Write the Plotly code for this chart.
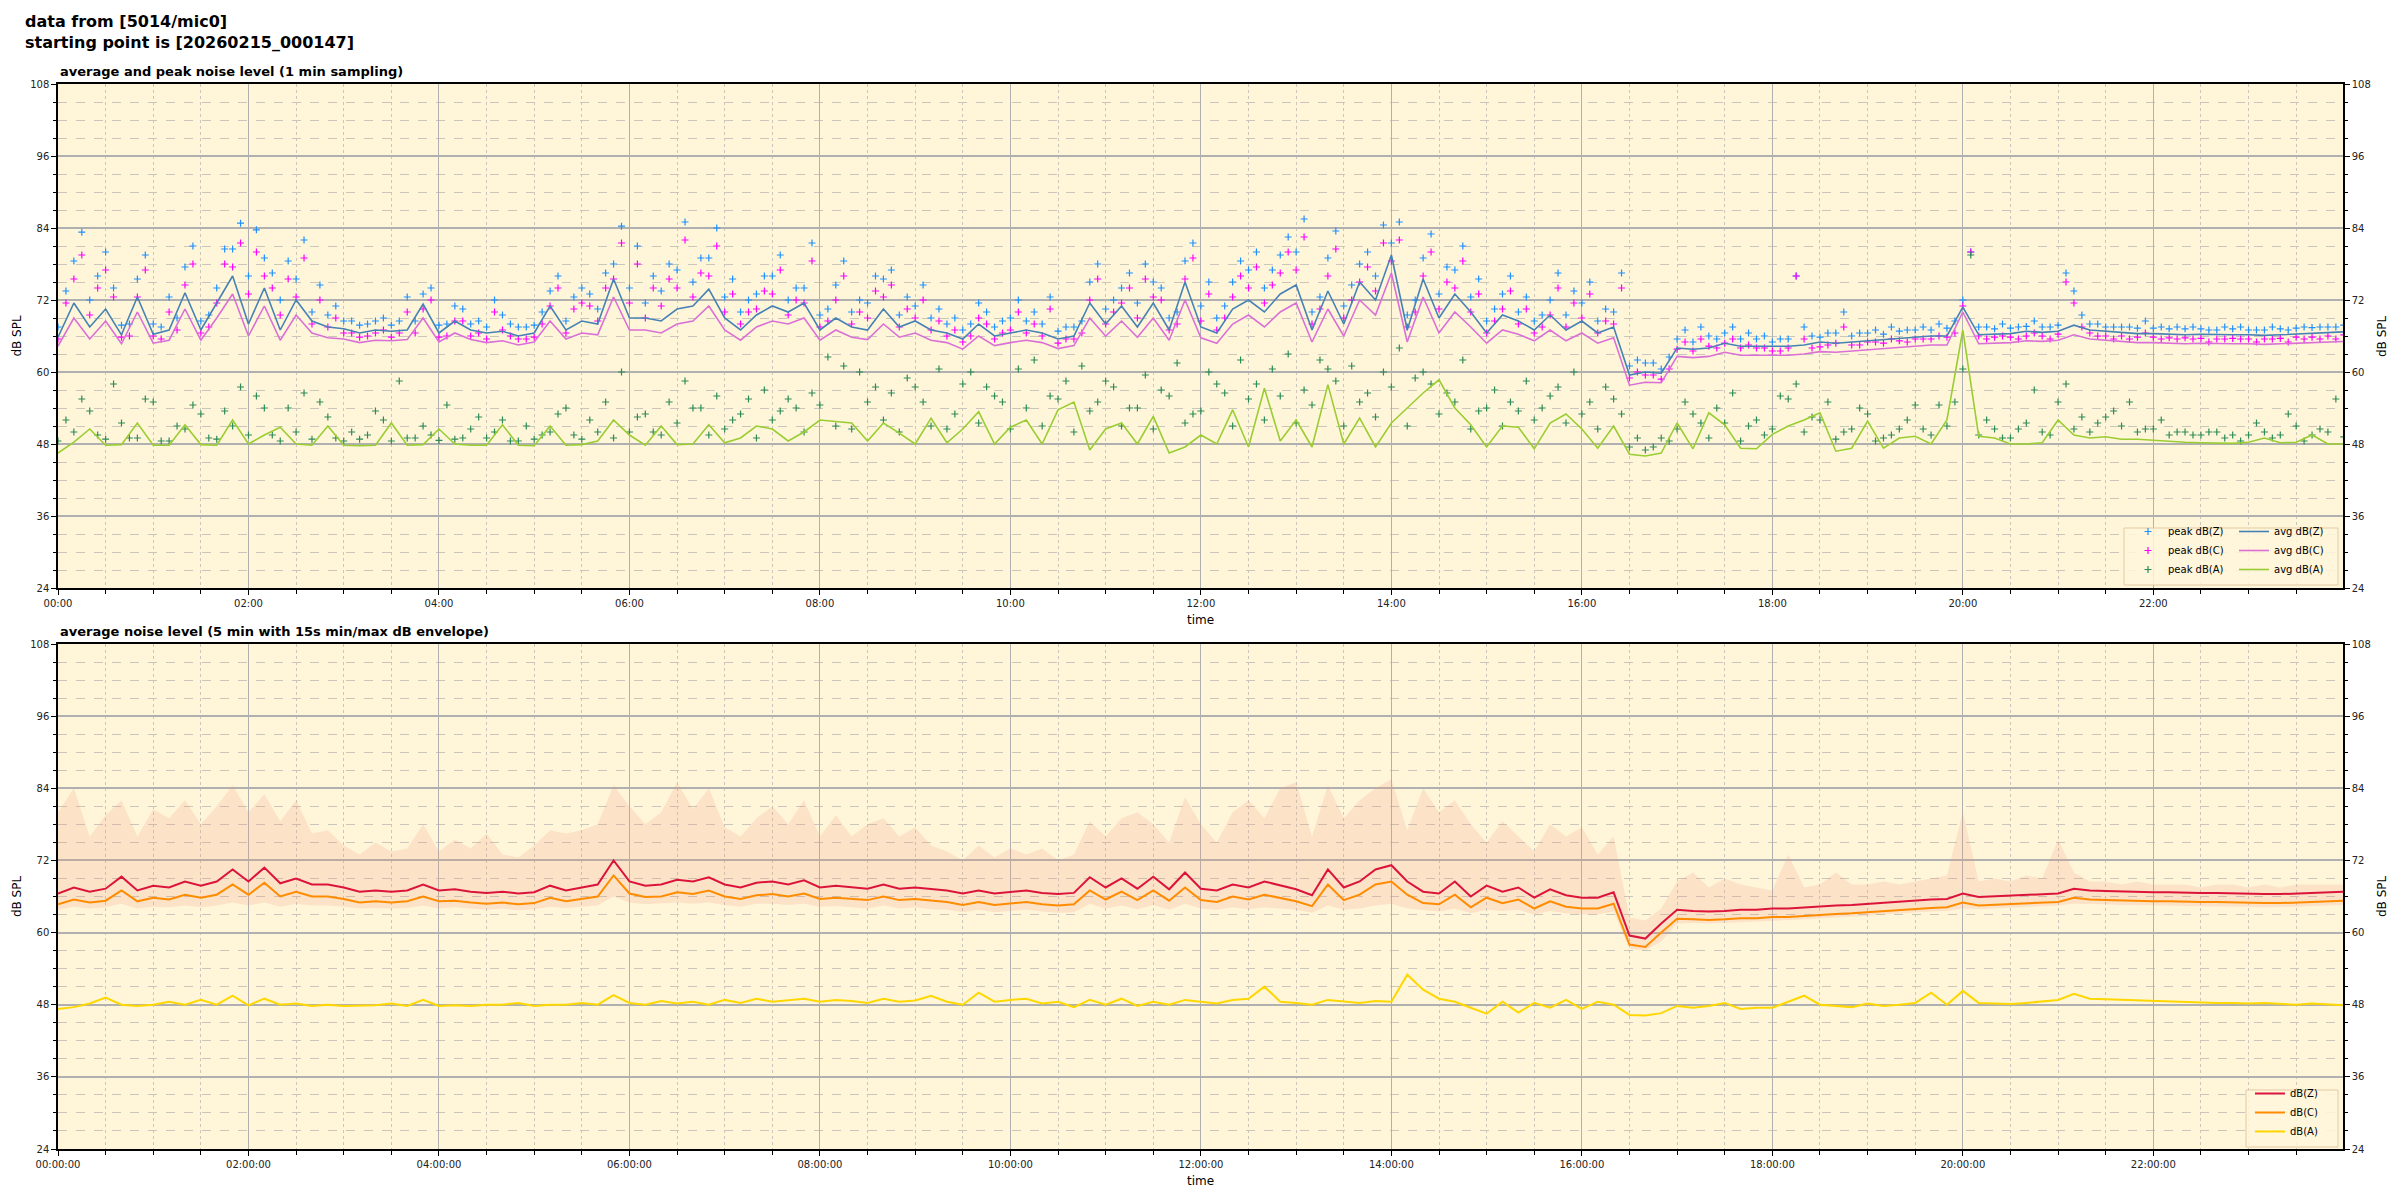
import pandas as pd
import plotly.graph_objects as go

# ---------------- DATA ----------------
# 10-minute samples, 00:00 .. 24:00 (145 points)
top_avg_z = [
    65.8, 71.5, 67.5, 70.5, 66.2, 72.5, 66.3, 67.0, 73.2, 67.0,
    71.5, 76.0, 68.0, 74.0, 67.0, 72.0, 68.5, 67.5, 67.2, 66.5,
    67.0, 66.8, 67.0, 71.3, 66.5, 68.5, 67.0, 66.5, 66.8, 66.0,
    66.5, 71.0, 67.0, 68.5, 68.0, 75.5,
    69.0, 69.0, 68.5, 70.5, 71.0, 73.8, 69.0, 67.0, 69.5, 71.0,
    70.0, 71.5, 67.0, 69.0, 67.5, 67.0, 70.5, 67.5, 68.5, 67.0,
    66.5, 65.5, 68.0, 66.0, 66.5, 67.0, 66.5, 65.5, 66.0, 71.5,
    68.0, 71.0, 67.5, 71.5, 67.0, 75.0,
    67.5, 66.5, 70.5, 72.0, 70.0, 73.0, 74.5, 67.0, 73.5, 68.0,
    75.0, 72.0, 79.5, 67.0, 75.5, 69.0, 73.0, 70.0, 66.5, 69.5,
    68.5, 67.0, 69.5, 67.0, 68.5, 66.5, 67.5, 59.5, 60.0, 59.8,
    64.0, 63.8, 64.0, 64.8, 64.3, 64.3,
    64.2, 64.3, 64.5, 65.0, 64.8, 65.0, 65.2, 65.4, 65.6, 65.8,
    66.0, 66.0, 70.8, 66.2, 66.3, 66.4, 66.8, 66.6, 66.8, 67.8,
    67.0, 66.8, 66.6, 66.4, 66.4, 66.3, 66.2, 66.3, 66.2, 66.2,
    66.2, 66.1, 66.2, 66.3, 66.4, 66.6, 66.7,
]
top_avg_c = [
    64.3, 69.0, 65.5, 68.5, 64.7, 70.0, 64.8, 65.3, 70.5, 65.3,
    69.0, 73.0, 66.0, 71.0, 65.3, 69.5, 66.5, 65.7, 65.5, 64.9,
    65.3, 65.2, 65.4, 69.0, 65.0, 66.5, 65.4, 64.9, 65.2, 64.5,
    65.0, 68.5, 65.5, 66.5, 66.2, 72.5,
    67.0, 67.0, 66.5, 68.0, 68.5, 71.0, 67.0, 65.3, 67.5, 68.5,
    68.0, 69.0, 65.3, 67.0, 65.8, 65.4, 68.0, 65.8, 66.5, 65.3,
    64.9, 63.8, 66.0, 64.4, 64.9, 65.3, 64.9, 63.9, 64.4, 69.0,
    66.0, 68.5, 65.8, 69.0, 65.3, 72.0,
    65.7, 64.8, 68.0, 69.5, 67.5, 70.0, 71.5, 65.0, 70.5, 66.0,
    72.0, 69.5, 76.5, 65.0, 72.5, 66.5, 70.0, 67.5, 64.8, 67.0,
    66.3, 65.2, 67.0, 65.2, 66.5, 64.8, 65.7, 57.8, 58.3, 58.2,
    62.6, 62.4, 62.6, 63.3, 62.8, 62.8,
    62.7, 62.8, 63.0, 63.4, 63.3, 63.5, 63.7, 63.9, 64.1, 64.3,
    64.5, 64.5, 70.0, 64.7, 64.8, 64.9, 65.2, 65.1, 65.3, 66.2,
    65.5, 65.3, 65.1, 64.9, 64.9, 64.8, 64.7, 64.8, 64.7, 64.7,
    64.7, 64.6, 64.7, 64.8, 64.9, 65.0, 65.1,
]
top_avg_a = [
    46.5, 48.3, 50.5, 47.8, 47.9, 51.5, 47.8, 47.8, 51.2, 47.9,
    47.8, 52.0, 48.0, 49.5, 50.8, 48.0, 47.8, 51.0, 47.8, 47.7,
    47.8, 51.5, 47.8, 47.9, 50.5, 48.0, 47.8, 47.8, 51.2, 47.8,
    47.7, 51.0, 47.8, 47.9, 48.5, 52.0,
    49.5, 47.8, 51.0, 47.9, 48.0, 51.2, 48.2, 49.0, 51.0, 50.5,
    48.5, 50.0, 52.0, 51.8, 51.5, 48.5, 51.5, 49.8, 48.0, 52.3,
    48.2, 50.5, 53.4, 48.0, 50.8, 52.0, 48.0, 53.7, 55.0, 47.0,
    50.5, 51.5, 48.0, 52.6, 46.5, 47.5,
    49.5, 48.0, 53.7, 47.5, 57.3, 48.5, 52.0, 47.5, 57.9, 48.0,
    52.3, 47.5, 51.5, 54.0, 56.5, 58.7, 54.0, 51.2, 47.5, 51.0,
    50.8, 47.2, 51.5, 53.0, 50.5, 47.3, 51.0, 46.3, 46.0, 46.5,
    51.5, 47.2, 53.2, 51.2, 47.3, 47.2,
    49.6, 51.0, 52.0, 53.2, 46.8, 47.3, 51.8, 47.3, 49.0, 49.3,
    48.0, 52.0, 67.0, 49.3, 49.0, 48.0, 48.0, 48.2, 52.0, 49.5,
    49.0, 49.2, 48.8, 48.8, 48.6, 48.4, 48.3, 48.2, 48.2, 48.1,
    48.3, 49.0, 48.2, 48.3, 49.5, 48.0, 48.0,
]
# peak values read at 00:05, 00:15 ... 23:55 (144 points)
top_peak_z = [
    73.5, 83.3, 76.0, 74.0, 68.0, 79.5, 67.5, 69.0, 81.0, 69.5,
    80.5, 84.8, 83.7, 76.5, 78.5, 82.0, 74.5, 71.0, 68.5, 68.0,
    69.0, 68.5, 68.5, 74.0, 68.0, 70.5, 68.5, 72.0, 68.0, 67.5,
    70.0, 76.0, 72.5, 73.0, 76.5, 84.3,
    81.0, 76.0, 78.0, 85.0, 79.0, 84.0, 75.5, 72.0, 76.0, 79.5,
    74.0, 81.5, 70.5, 78.5, 72.0, 76.0, 77.0, 72.5, 74.5, 70.5,
    69.0, 68.0, 70.0, 68.5, 72.0, 70.0, 72.5, 67.5, 68.5, 78.0,
    72.0, 76.5, 78.0, 74.0, 70.0, 81.5,
    75.0, 71.0, 78.5, 80.0, 77.0, 82.5, 85.5, 72.5, 83.5, 74.5,
    80.0, 84.5, 85.0, 72.0, 83.0, 77.5, 81.0, 75.5, 70.5, 76.0,
    72.5, 69.5, 76.5, 73.5, 75.0, 70.5, 76.5, 62.0, 61.5, 62.5,
    67.0, 67.5, 65.5, 67.5, 66.5, 66.0,
    65.5, 76.0, 66.0, 66.5, 70.0, 66.5, 67.0, 67.5, 67.0, 67.5,
    68.0, 68.5, 80.0, 67.5, 68.0, 67.5, 68.5, 67.5, 76.5, 69.5,
    68.0, 67.5, 67.5, 68.5, 67.5, 67.5, 67.5, 67.0, 67.5, 67.5,
    67.0, 67.5, 67.0, 67.5, 67.5, 67.5,
]
top_peak_c = [
    71.5, 79.5, 74.0, 72.5, 66.0, 77.0, 65.5, 67.0, 78.0, 67.5,
    78.0, 81.5, 80.0, 74.0, 75.5, 79.0, 72.0, 69.0, 66.5, 66.0,
    67.0, 66.5, 66.5, 72.0, 66.0, 68.5, 66.5, 70.0, 66.0, 65.5,
    68.0, 74.0, 70.5, 71.0, 74.0, 81.5,
    78.0, 74.0, 75.5, 82.0, 76.5, 81.0, 73.0, 70.0, 73.5, 77.0,
    72.0, 78.5, 68.5, 76.0, 70.0, 73.5, 74.5, 70.5, 72.0, 68.5,
    67.0, 66.0, 68.0, 66.5, 70.0, 68.0, 70.5, 65.5, 66.5, 75.5,
    70.0, 74.0, 75.5, 72.0, 68.0, 79.0,
    73.0, 69.0, 76.0, 77.5, 74.5, 80.0, 82.5, 70.5, 80.5, 72.0,
    77.5, 81.5, 82.0, 70.0, 80.0, 75.0, 78.5, 73.0, 68.5, 73.5,
    70.5, 67.5, 74.0, 71.5, 73.0, 68.5, 74.0, 60.0, 59.5, 60.5,
    65.0, 65.5, 64.0, 65.5, 64.5, 64.0,
    63.5, 76.0, 64.0, 64.5, 67.5, 64.5, 65.0, 65.5, 65.0, 65.5,
    66.0, 66.5, 80.0, 65.5, 66.0, 65.5, 66.5, 65.5, 75.0, 67.5,
    66.0, 65.5, 65.5, 66.5, 65.5, 65.5, 65.5, 65.0, 65.5, 65.5,
    65.0, 65.5, 65.0, 65.5, 65.5, 65.5,
]
top_peak_a = [
    52.0, 55.5, 49.5, 58.0, 49.0, 55.5, 48.5, 51.0, 54.5, 49.0,
    53.5, 57.5, 56.0, 49.5, 54.0, 56.5, 55.0, 49.0, 50.0, 49.5,
    52.0, 58.5, 49.0, 49.5, 54.5, 49.0, 52.5, 50.0, 48.5, 51.0,
    49.5, 53.0, 49.5, 52.0, 55.0, 60.0,
    52.5, 50.0, 55.0, 58.5, 54.0, 56.0, 52.0, 55.5, 57.0, 53.5,
    54.0, 56.5, 62.5, 61.0, 60.0, 57.5, 56.5, 59.0, 55.0, 60.5,
    53.0, 60.0, 57.5, 55.0, 60.5, 62.0, 56.0, 58.5, 61.0, 55.0,
    57.5, 54.0, 59.5, 57.0, 61.5, 53.0,
    60.0, 56.5, 62.0, 58.0, 60.5, 63.0, 57.0, 62.0, 58.5, 61.0,
    56.5, 60.0, 64.0, 59.0, 58.0, 56.5, 62.0, 53.5, 57.0, 55.0,
    58.5, 54.0, 57.5, 60.0, 55.0, 57.5, 53.0, 49.0, 47.5, 48.5,
    55.0, 51.5, 54.0, 56.5, 51.0, 49.5,
    56.0, 58.0, 52.5, 55.0, 50.0, 54.0, 48.5, 49.5, 52.0, 50.5,
    54.5, 55.0, 79.5, 52.0, 49.0, 50.5, 57.0, 49.5, 58.0, 52.5,
    51.5, 53.5, 55.0, 50.5, 52.0, 50.0, 49.5, 50.0, 49.0, 48.5,
    51.5, 49.0, 53.0, 48.5, 50.5, 55.5,
]
# further peak values read at 00:00, 00:10 ... 24:00 (145 points)
top_peak_z_b = [
    67.5, 78.5, 72.0, 80.0, 67.8, 75.5, 68.0, 72.5, 77.5, 68.5,
    74.0, 80.5, 76.0, 79.0, 72.0, 75.5, 70.0, 69.5, 68.5, 67.8,
    68.5, 67.8, 72.5, 73.0, 67.8, 71.0, 68.0, 67.5, 69.5, 67.5,
    67.8, 73.5, 68.5, 74.0, 70.5, 78.0,
    74.0, 71.5, 73.5, 77.0, 75.0, 79.0, 72.5, 70.0, 73.0, 76.0,
    72.0, 74.0, 69.5, 74.5, 70.0, 71.5, 75.5, 69.5, 71.0, 69.0,
    68.0, 67.0, 71.5, 67.5, 69.0, 68.5, 68.0, 66.8, 67.5, 75.0,
    70.5, 74.0, 71.5, 75.0, 69.0, 78.5,
    71.0, 69.0, 75.0, 77.0, 74.0, 79.5, 80.0, 70.0, 79.0, 71.0,
    78.0, 76.0, 81.5, 69.5, 79.0, 73.0, 77.0, 72.5, 68.5, 73.0,
    70.0, 68.5, 72.0, 69.5, 71.5, 68.5, 70.0, 61.0, 61.5, 60.5,
    65.5, 65.0, 66.0, 66.5, 65.5, 65.5,
    65.0, 65.5, 67.5, 65.8, 66.5, 66.0, 66.5, 66.3, 66.8, 67.0,
    67.0, 67.3, 72.0, 67.5, 67.2, 67.3, 67.6, 67.5, 67.8, 73.5,
    68.0, 67.5, 67.5, 67.3, 67.3, 67.2, 67.2, 67.2, 67.0, 67.2,
    67.0, 67.0, 67.2, 67.3, 67.4, 67.5, 67.8,
]
top_peak_c_b = [
    65.5, 75.5, 69.5, 77.0, 65.8, 72.5, 66.0, 70.0, 74.5, 66.5,
    71.5, 77.5, 73.0, 76.0, 69.5, 72.5, 68.0, 67.5, 66.5, 65.8,
    66.5, 65.8, 70.0, 70.5, 65.8, 68.5, 66.0, 65.5, 67.0, 65.5,
    65.8, 71.0, 66.5, 71.5, 68.5, 75.5,
    71.5, 69.0, 71.0, 74.0, 72.5, 76.0, 70.0, 68.0, 70.5, 73.0,
    69.5, 71.5, 67.5, 72.0, 68.0, 69.0, 72.5, 67.5, 69.0, 67.0,
    66.0, 65.0, 69.0, 65.5, 67.0, 66.5, 66.0, 64.8, 65.5, 72.0,
    68.0, 71.5, 69.0, 72.5, 67.0, 75.5,
    68.5, 67.0, 72.5, 74.0, 71.5, 76.5, 77.0, 68.0, 76.0, 69.0,
    75.0, 73.5, 78.5, 67.5, 76.0, 70.5, 74.0, 70.0, 66.5, 70.5,
    68.0, 66.5, 69.5, 67.5, 69.0, 66.5, 68.0, 59.0, 59.5, 58.8,
    63.8, 63.5, 64.3, 64.8, 64.0, 64.0,
    63.5, 64.0, 65.5, 64.2, 64.8, 64.5, 65.0, 64.8, 65.2, 65.5,
    65.5, 65.8, 71.0, 66.0, 65.8, 65.8, 66.0, 66.0, 66.3, 71.5,
    66.5, 66.0, 66.0, 65.8, 65.8, 65.7, 65.7, 65.6, 65.5, 65.6,
    65.5, 65.5, 65.6, 65.8, 65.8, 66.0, 66.2,
]
top_peak_a_b = [
    48.5, 50.0, 53.5, 48.8, 51.5, 49.0, 55.0, 48.5, 50.5, 53.0,
    48.8, 51.0, 49.5, 54.0, 48.5, 50.0, 48.8, 52.5, 48.5, 48.8,
    53.5, 48.5, 49.0, 51.0, 48.6, 48.8, 50.5, 49.0, 52.0, 48.5,
    48.8, 50.0, 54.0, 48.8, 50.0, 49.0,
    50.0, 53.0, 49.5, 51.5, 54.0, 49.5, 50.5, 53.0, 49.0, 52.0,
    55.5, 50.0, 54.5, 51.0, 50.5, 55.0, 52.0, 50.0, 57.5, 51.0,
    50.5, 58.0, 51.5, 56.0, 50.5, 54.0, 51.0, 55.5, 50.0, 53.5,
    58.5, 51.0, 54.0, 50.5, 56.0, 51.5,
    53.5, 58.0, 51.0, 55.5, 52.0, 56.0, 51.5, 54.5, 60.5, 51.0,
    55.0, 52.5, 57.5, 51.0, 60.0, 53.0, 55.0, 50.5, 54.0, 51.0,
    53.5, 52.0, 56.0, 51.5, 53.0, 50.5, 55.5, 47.5, 47.0, 49.0,
    50.5, 53.0, 49.0, 51.5, 48.5, 52.0,
    50.5, 55.5, 50.0, 52.0, 48.8, 50.5, 53.0, 49.0, 50.5, 54.5,
    49.5, 51.0, 60.5, 49.5, 50.5, 49.0, 51.5, 50.0, 55.0, 50.5,
    50.0, 52.5, 51.0, 50.0, 50.5, 49.5, 50.0, 49.5, 50.0, 49.5,
    49.5, 50.0, 49.5, 51.0, 49.5, 50.0, 49.2,
]

# bottom panel: 5 min averages (sampled every 10 min, 145 points)
bot_z = [
    66.5, 67.5, 66.8, 67.3, 69.3, 67.0, 67.8, 67.5, 68.5, 67.8,
    68.5, 70.5, 68.5, 70.8, 68.2, 69.0, 68.0, 68.0, 67.5, 66.8,
    67.0, 66.8, 67.0, 68.0, 67.0, 67.2, 66.8, 66.6, 66.8, 66.5,
    66.7, 67.8, 67.0, 67.5, 68.0, 72.0,
    68.5, 67.8, 68.0, 68.8, 68.5, 69.2, 68.0, 67.5, 68.3, 68.5,
    68.0, 68.7, 67.5, 67.8, 67.5, 67.3, 68.0, 67.3, 67.5, 67.2,
    67.0, 66.5, 67.0, 66.5, 66.7, 67.0, 66.6, 66.4, 66.6, 69.2,
    67.5, 69.0, 67.3, 69.3, 67.2, 70.0,
    67.3, 67.0, 68.0, 67.5, 68.5, 67.8,
    67.2, 66.2, 70.5, 67.5, 68.5, 70.5, 71.2, 68.5, 66.8, 66.5,
    68.5, 66.0, 67.8, 66.8, 67.5, 65.8, 67.2, 66.2, 65.8, 65.8,
    66.7, 59.5, 59.0, 61.5, 63.8, 63.6, 63.5, 63.6, 63.8, 63.8,
    64.0, 64.0, 64.2, 64.4, 64.5, 64.6, 64.8, 65.0, 65.2, 65.3,
    65.5, 65.6, 66.5, 65.9, 66.0, 66.1, 66.3, 66.4, 66.5, 67.3,
    67.0, 66.9, 66.8, 66.8, 66.7, 66.7, 66.6, 66.6, 66.6, 66.5,
    66.5, 66.4, 66.4, 66.5, 66.6, 66.7, 66.8,
]
bot_c = [
    64.7, 65.5, 65.0, 65.3, 67.0, 65.2, 65.8, 65.5, 66.3, 65.8,
    66.3, 68.0, 66.3, 68.3, 66.0, 66.8, 66.0, 66.0, 65.6, 65.0,
    65.2, 65.0, 65.2, 66.0, 65.2, 65.3, 65.0, 64.8, 65.0, 64.7,
    64.9, 65.8, 65.2, 65.6, 66.0, 69.5,
    66.5, 65.9, 66.0, 66.7, 66.4, 67.0, 66.0, 65.6, 66.2, 66.4,
    66.0, 66.5, 65.6, 65.8, 65.6, 65.4, 66.0, 65.4, 65.6, 65.3,
    65.1, 64.6, 65.1, 64.6, 64.8, 65.1, 64.7, 64.5, 64.7, 67.0,
    65.5, 66.8, 65.4, 67.0, 65.3, 67.5,
    65.4, 65.1, 66.0, 65.5, 66.3, 65.8,
    65.2, 64.4, 68.0, 65.4, 66.3, 68.0, 68.5, 66.3, 64.9, 64.7,
    66.3, 64.2, 65.8, 64.9, 65.5, 64.0, 65.2, 64.3, 64.0, 64.0,
    64.8, 58.0, 57.6, 60.0, 62.3, 62.2, 62.1, 62.2, 62.4, 62.4,
    62.6, 62.6, 62.8, 63.0, 63.1, 63.2, 63.4, 63.6, 63.8, 63.9,
    64.1, 64.2, 65.0, 64.5, 64.6, 64.7, 64.9, 65.0, 65.1, 65.8,
    65.5, 65.4, 65.3, 65.3, 65.2, 65.2, 65.1, 65.1, 65.1, 65.0,
    65.0, 64.9, 64.9, 65.0, 65.1, 65.2, 65.3,
]
bot_a = [
    47.3, 47.6, 48.2, 49.2, 48.0, 47.8, 48.0, 48.5, 48.0, 48.8,
    48.0, 49.5, 47.9, 49.0, 48.0, 48.2, 47.8, 48.0, 47.8, 47.8,
    47.9, 48.2, 47.8, 48.8, 47.8, 47.9, 47.8, 48.0, 48.0, 48.3,
    47.8, 48.0, 48.0, 48.3, 48.0, 49.6,
    48.3, 48.0, 48.6, 48.2, 48.5, 48.0, 48.8, 48.3, 49.0, 48.5,
    48.8, 49.0, 48.5, 48.8, 48.6, 48.3, 49.0, 48.5, 48.7, 49.5,
    48.5, 48.0, 50.0, 48.5, 48.8, 49.0, 48.2, 48.5, 47.6, 48.8,
    48.0, 49.0, 47.8, 48.5, 48.0, 48.8,
    48.5, 48.2, 48.8, 49.0, 51.0, 48.5, 48.3, 48.0, 48.8, 48.5,
    48.3, 48.6, 48.5, 53.0, 50.5, 49.0, 48.5, 47.5, 46.5, 48.5,
    46.7, 48.3, 47.5, 48.8, 47.3, 48.5, 48.0, 46.3, 46.2, 46.6,
    47.8, 47.5, 47.8, 48.3, 47.3, 47.5,
    47.5, 48.5, 49.5, 48.0, 47.8, 47.6, 48.2, 47.8, 48.0, 48.3,
    50.0, 48.0, 50.3, 48.3, 48.2, 48.1, 48.3, 48.6, 48.8, 49.8,
    49.0, 48.9, 48.8, 48.8, 48.7, 48.6, 48.5, 48.4, 48.3, 48.3,
    48.2, 48.3, 48.2, 48.0, 48.2, 48.0, 47.9,
]
# 15 s min / max envelope
env_max = [
    80.0, 84.0, 76.0, 79.5, 82.0, 76.0, 80.5, 79.0, 82.0, 78.0,
    81.0, 84.5, 80.0, 83.0, 78.5, 82.0, 76.5, 77.0, 74.5, 73.0,
    75.0, 73.5, 74.0, 78.0, 73.5, 75.5, 74.0, 76.5, 73.0, 72.5,
    74.5, 77.0, 76.5, 77.0, 78.0, 84.5,
    81.0, 78.0, 80.0, 85.0, 80.5, 84.0, 77.5, 76.0, 79.0, 81.0,
    78.0, 82.0, 76.0, 79.5, 76.0, 78.0, 79.0, 76.0, 77.5, 74.5,
    73.5, 72.0, 74.5, 72.5, 74.0, 73.0, 74.0, 72.0, 73.0, 78.5,
    76.0, 79.0, 80.0, 78.0, 75.0, 82.5,
    78.0, 75.0, 80.0, 82.0, 79.0, 84.0, 85.0, 76.0, 84.5, 79.0,
    82.0, 84.0, 85.5, 77.0, 84.0, 80.0, 82.0, 78.0, 75.0, 78.5,
    76.0, 73.5, 78.0, 76.0, 77.5, 73.0, 76.0, 62.5, 62.0, 64.0,
    68.5, 70.0, 67.5, 69.0, 68.0, 67.5,
    67.0, 73.0, 67.5, 68.0, 70.0, 68.0, 68.0, 68.5, 68.0, 68.5,
    69.0, 69.5, 80.0, 68.5, 69.0, 68.5, 69.5, 69.0, 75.5, 70.0,
    68.5, 68.5, 68.0, 68.5, 68.0, 68.0, 68.0, 67.5, 68.0, 68.0,
    67.5, 68.0, 67.5, 68.0, 68.0, 68.0, 68.0,
]
env_min = [
    63.8, 64.3, 64.0, 64.2, 64.8, 64.0, 64.3, 64.2, 64.5, 64.2,
    64.5, 65.0, 64.5, 65.0, 64.3, 64.8, 64.5, 64.5, 64.3, 64.0,
    64.1, 64.0, 64.1, 64.5, 64.0, 64.2, 64.0, 63.8, 64.0, 63.7,
    63.9, 64.3, 64.1, 64.3, 64.5, 66.0,
    65.0, 64.7, 64.8, 65.0, 64.8, 65.0, 64.6, 64.3, 64.8, 64.8,
    64.6, 64.8, 64.3, 64.4, 64.2, 64.0, 64.5, 64.0, 64.2, 63.9,
    63.8, 63.4, 63.8, 63.4, 63.6, 63.8, 63.5, 63.3, 63.4, 64.8,
    64.0, 64.5, 63.9, 64.6, 63.8, 64.8,
    64.0, 63.8, 64.2, 63.9, 64.2, 64.0, 63.8, 63.3, 64.5, 63.8,
    64.0, 64.5, 64.8, 64.0, 63.7, 63.5, 64.0, 63.2, 63.8, 63.6,
    63.8, 63.0, 63.6, 63.2, 63.0, 63.0, 63.5, 57.3, 57.0, 58.5,
    61.5, 61.6, 61.5, 61.6, 61.8, 61.8,
    62.0, 62.0, 62.2, 62.4, 62.5, 62.6, 62.8, 63.0, 63.2, 63.3,
    63.5, 63.6, 64.0, 63.9, 64.0, 64.1, 64.3, 64.4, 64.5, 64.8,
    64.8, 64.7, 64.6, 64.6, 64.5, 64.5, 64.4, 64.4, 64.4, 64.3,
    64.3, 64.2, 64.2, 64.3, 64.4, 64.5, 64.6,
]

t_line = pd.date_range("2026-02-15 00:00", periods=len(top_avg_z), freq="10min")
t_peak = pd.date_range("2026-02-15 00:05", periods=len(top_peak_z), freq="10min")
t_peak_all = list(t_peak) + list(t_line)

# ---------------- STYLE ----------------
FONT = "DejaVu Sans"
BG = "#FFF6DA"
MAJ = "#b0b0b0"
MINC = "#cbc6bc"

fig = go.Figure()

def peak(y, y_b, name, color):
    return go.Scatter(x=t_peak_all, y=list(y) + list(y_b), name=name, mode="markers",
                      legend="legend",
                      marker=dict(symbol="cross-thin", size=5, color=color,
                                  line=dict(width=1.2, color=color)),
                      xaxis="x", yaxis="y")

fig.add_trace(peak(top_peak_z, top_peak_z_b, "peak dB(Z)", "#1E90FF"))
fig.add_trace(peak(top_peak_c, top_peak_c_b, "peak dB(C)", "#FF00FF"))
fig.add_trace(peak(top_peak_a, top_peak_a_b, "peak dB(A)", "#2E8B57"))

for y, name, color in [(top_avg_z, "avg dB(Z)", "#4682B4"),
                       (top_avg_c, "avg dB(C)", "#DA70D6"),
                       (top_avg_a, "avg dB(A)", "#9ACD32")]:
    fig.add_trace(go.Scatter(x=t_line, y=y, name=name, mode="lines", legend="legend2",
                             line=dict(color=color, width=1.6), xaxis="x", yaxis="y"))

# envelope
fig.add_trace(go.Scatter(x=t_line, y=env_min, mode="lines", line=dict(width=0),
                         showlegend=False, hoverinfo="skip", xaxis="x2", yaxis="y2"))
fig.add_trace(go.Scatter(x=t_line, y=env_max, mode="lines", line=dict(width=0),
                         fill="tonexty", fillcolor="rgba(240,150,120,0.2)",
                         showlegend=False, hoverinfo="skip", xaxis="x2", yaxis="y2"))

for y, name, color in [(bot_z, "dB(Z)", "#DC143C"),
                       (bot_c, "dB(C)", "#FF8C00"),
                       (bot_a, "dB(A)", "#FFD700")]:
    fig.add_trace(go.Scatter(x=t_line, y=y, name=name, mode="lines", legend="legend3",
                             line=dict(color=color, width=2), xaxis="x2", yaxis="y2"))

# empty traces so the right-hand (mirrored) y axes are registered and drawn
fig.add_trace(go.Scatter(x=[], y=[], xaxis="x", yaxis="y3", showlegend=False,
                         hoverinfo="skip"))
fig.add_trace(go.Scatter(x=[], y=[], xaxis="x2", yaxis="y4", showlegend=False,
                         hoverinfo="skip"))

# page body has an 8px margin: figure is 2384x1184 placed at (8, 8)
W, Hfig = 2384, 1184
L, R, T, B = 50, 49, 76, 43
PH = Hfig - T - B            # 1065
PW = W - L - R               # 2285
top_dom = [(1149 - 588) / PH, 1.0]
bot_dom = [0.0, (1149 - 644) / PH]

x_range = ["2026-02-15 00:00:00", "2026-02-15 23:59:30"]
tickfont = dict(family=FONT, size=10, color="#222")

def xaxis(fmt, anchor):
    return dict(type="date", range=x_range, tick0="2026-02-15 00:00", dtick=7200000,
                tickformat=fmt, ticks="outside", ticklen=5, tickcolor="#000",
                showgrid=True, gridcolor=MAJ, gridwidth=1.2,
                showline=True, linecolor="#000", linewidth=1.5, mirror=True,
                tickfont=tickfont, anchor=anchor, zeroline=False, automargin=False,
                title=dict(text="time", font=dict(family=FONT, size=12, color="#000"), standoff=8),
                minor=dict(dtick=1800000, tick0="2026-02-15 00:00", ticks="outside", ticklen=4,
                           tickcolor="#000", showgrid=True, gridcolor=MINC, griddash="dot",
                           gridwidth=1))

def yaxis(dom, anchor, side="left", overlay=None, grid=True):
    d = dict(range=[24, 108], tick0=24, dtick=12, ticks="outside", ticklen=5,
             tickcolor="#000", side=side, tickfont=tickfont, automargin=False,
             showgrid=grid, gridcolor=MAJ, gridwidth=1.5, zeroline=False,
             showline=True, linecolor="#000", linewidth=1.5, showticklabels=True,
             minor=dict(dtick=3, tick0=24, ticks="outside", ticklen=3, tickcolor="#000",
                        showgrid=grid, gridcolor=MINC, griddash="dash", gridwidth=1))
    if overlay:
        d["overlaying"] = overlay
    else:
        d["domain"] = dom
        d["title"] = dict(text="dB SPL", font=dict(family=FONT, size=12, color="#000"),
                          standoff=6)
    d["anchor"] = anchor
    return d

legend_common = dict(bgcolor="rgba(0,0,0,0)", borderwidth=0,
                     font=dict(family=FONT, size=10, color="#000"),
                     yanchor="bottom", xanchor="left", tracegroupgap=0,
                     itemwidth=30, traceorder="normal")

def px_x(px):   # page px -> paper x
    return (px - 8 - L) / PW

def px_y(py):   # page px -> paper y
    return (Hfig - B - (py - 8)) / PH

right_title = dict(text="dB SPL", xref="paper", yref="paper", textangle=-90,
                   showarrow=False, xanchor="center", yanchor="middle",
                   font=dict(family=FONT, size=12, color="#000"))

fig.update_layout(
    width=W, height=Hfig,
    paper_bgcolor="white", plot_bgcolor=BG,
    margin=dict(l=L, r=R, t=T, b=B),
    showlegend=True,
    xaxis=xaxis("%H:%M", "y"),
    yaxis=yaxis(top_dom, "x"),
    yaxis3=yaxis(None, "x", side="right", overlay="y", grid=False),
    xaxis2=xaxis("%H:%M:%S", "y2"),
    yaxis2=yaxis(bot_dom, "x2"),
    yaxis4=yaxis(None, "x2", side="right", overlay="y2", grid=False),
    legend=dict(legend_common, x=px_x(2128), y=px_y(584)),
    legend2=dict(legend_common, x=px_x(2234), y=px_y(584)),
    legend3=dict(legend_common, x=px_x(2250), y=px_y(1146)),
    annotations=[
        dict(text="<b>data from [5014/mic0]<br>starting point is [20260215_000147]</b>",
             xref="paper", yref="paper", x=px_x(23), y=px_y(10), xanchor="left",
             yanchor="top", align="left", showarrow=False,
             font=dict(family=FONT, size=16, color="#000")),
        dict(text="<b>average and peak noise level (1 min sampling)</b>", xref="paper",
             yref="paper", x=0, y=1, xanchor="left", yanchor="bottom", yshift=3,
             showarrow=False, font=dict(family=FONT, size=13, color="#000")),
        dict(text="<b>average noise level (5 min with 15s min/max dB envelope)</b>",
             xref="paper", yref="paper", x=0, y=bot_dom[1], xanchor="left",
             yanchor="bottom", yshift=3, showarrow=False,
             font=dict(family=FONT, size=13, color="#000")),
        dict(right_title, x=px_x(2382), y=px_y(336)),
        dict(right_title, x=px_x(2382), y=px_y(896)),
    ],
    shapes=[
        dict(type="rect", xref="paper", yref="paper", x0=px_x(2124), x1=px_x(2338),
             y0=px_y(585), y1=px_y(528), line=dict(color="#e2c9a0", width=1),
             fillcolor="rgba(255,246,218,0.85)", layer="above"),
        dict(type="rect", xref="paper", yref="paper", x0=px_x(2246), x1=px_x(2338),
             y0=px_y(1147), y1=px_y(1090), line=dict(color="#e2c9a0", width=1),
             fillcolor="rgba(255,246,218,0.85)", layer="above"),
    ],
)

fig.write_html("out.html")
